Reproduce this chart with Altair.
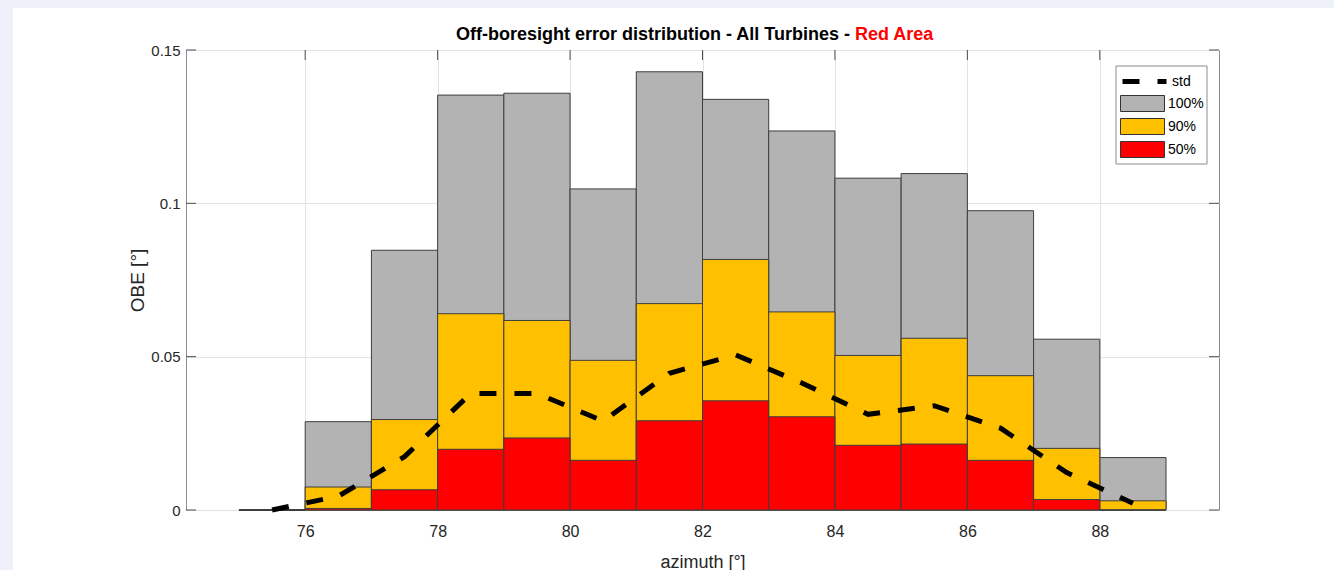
import altair as alt
import pandas as pd

# ---------------- data ----------------
bin_left = [75, 76, 77, 78, 79, 80, 81, 82, 83, 84, 85, 86, 87, 88]
bin_width = 1
obe_100 = [0.0, 0.0288, 0.0847, 0.1353, 0.1359, 0.1047, 0.1429, 0.1339, 0.1236, 0.1082, 0.1097, 0.0976, 0.0557, 0.0171]
obe_90 = [0.0, 0.0075, 0.0295, 0.0640, 0.0618, 0.0488, 0.0673, 0.0817, 0.0646, 0.0504, 0.0560, 0.0438, 0.0201, 0.0030]
obe_50 = [0.0, 0.0005, 0.0066, 0.0198, 0.0235, 0.0162, 0.0291, 0.0356, 0.0304, 0.0211, 0.0215, 0.0162, 0.0034, 0.0]
std_azimuth = [75.5, 76.5, 77.5, 78.5, 79.5, 80.5, 81.5, 82.5, 83.5, 84.5, 85.5, 86.5, 87.5, 88.5]
std_obe = [0.0, 0.0045, 0.0174, 0.0380, 0.0380, 0.0290, 0.0446, 0.0506, 0.0414, 0.0312, 0.0340, 0.0267, 0.0122, 0.0022]
x_ticks = [76, 78, 80, 82, 84, 86, 88]
y_ticks = [0, 0.05, 0.1, 0.15]
bar_levels = ["100%", "90%", "50%"]
bar_colors = ["#b3b3b3", "#ffc000", "#ff0000"]
line_levels = ["std"]
title_main = ["Off-boresight error distribution - All Turbines -"]
title_red = ["Red Area"]

# ---------------- styling ----------------
FONT = "Liberation Sans"
TXT = "#262626"
GRID = "#e3e3e3"
FRAME = "#8c8c8c"
TICK = "#4d4d4d"
PAGE_BG = "#eef1f9"
PW, PH = 1033, 460
PAD = {"left": 186, "top": 50, "right": 115, "bottom": 60}
# legend symbols: size 256 -> unit = 8 px; shapes drawn from x=0 to x=44 px, 16 px tall
RECT_PATH = "M-1,-1L4.5,-1L4.5,1L-1,1Z"
LINE_PATH = "M-1,0L4.5,0"
DASH = [17, 18]

rows = []
for lvl, vals in zip(bar_levels, (obe_100, obe_90, obe_50)):
    for b, v in zip(bin_left, vals):
        rows.append({"level": lvl, "x0": b, "x1": b + bin_width, "obe": v, "base": 0.0})
bars_df = pd.DataFrame(rows)
std_df = pd.DataFrame({"az": std_azimuth, "obe": std_obe, "series": line_levels * len(std_azimuth)})
xt_df = pd.DataFrame({"t": x_ticks})
yt_df = pd.DataFrame({"t": y_ticks})
one = pd.DataFrame({"k": [0]})

X_SCALE = alt.Scale(domain=[74.2, 89.8], nice=False, zero=False)
Y_SCALE = alt.Scale(domain=[0, 0.15], nice=False, zero=False)

X_AXIS = alt.Axis(
    title="azimuth [°]", values=x_ticks, format="d", grid=True, gridColor=GRID,
    ticks=False, tickSize=0, domain=False, labelFlush=False, labelOverlap=False,
    labelFontSize=16, labelFont=FONT, labelColor=TXT, labelPadding=13,
    titleFontSize=18, titleFont=FONT, titleColor=TXT, titleFontWeight="normal",
    titleY=57, titleBaseline="alphabetic",
)
Y_AXIS = alt.Axis(
    title="OBE [°]", values=y_ticks, format=".2~f", grid=True, gridColor=GRID,
    ticks=False, tickSize=0, domain=False, labelFlush=False, labelOverlap=False,
    labelFontSize=15, labelFont=FONT, labelColor=TXT, labelPadding=6,
    titleFontSize=19, titleFont=FONT, titleColor=TXT, titleFontWeight="normal",
    titleX=-43, titleY=PH / 2, titleBaseline="alphabetic", titleAngle=270,
)

BAR_LEGEND = alt.Legend(
    title=None, orient="none", legendX=934, legendY=45, direction="vertical",
    symbolType=RECT_PATH, symbolSize=256, symbolStrokeColor="#333333", symbolStrokeWidth=1,
    symbolOpacity=1, labelFontSize=14, labelFont=FONT, labelColor="#000000", labelOffset=31,
    padding=0, rowPadding=2,
)
STD_LEGEND = alt.Legend(
    title=None, orient="none", legendX=934, legendY=21, direction="vertical",
    symbolType=LINE_PATH, symbolSize=256, symbolStrokeColor="#000000", symbolStrokeWidth=5,
    symbolFillColor="transparent", symbolDash=DASH, symbolOpacity=1,
    labelFontSize=14, labelFont=FONT, labelColor="#000000", labelOffset=31, padding=0,
)

# page background strips (outside the plot)
strip_left = alt.Chart(one).mark_rect(color=PAGE_BG).encode(
    x=alt.value(-PAD["left"]), x2=alt.value(-PAD["left"] + 13),
    y=alt.value(-PAD["top"]), y2=alt.value(PH + PAD["bottom"]),
)
strip_top = alt.Chart(one).mark_rect(color=PAGE_BG).encode(
    x=alt.value(-PAD["left"]), x2=alt.value(PW + PAD["right"]),
    y=alt.value(-PAD["top"]), y2=alt.value(-PAD["top"] + 8),
)

# inward ticks on all four sides
tick_top = alt.Chart(xt_df).mark_rule(color=TICK, strokeWidth=1).encode(
    x=alt.X("t:Q", scale=X_SCALE, axis=X_AXIS), y=alt.value(0), y2=alt.value(10))
tick_bottom = alt.Chart(xt_df).mark_rule(color=TICK, strokeWidth=1).encode(
    x=alt.X("t:Q", scale=X_SCALE, axis=X_AXIS), y=alt.value(PH - 10), y2=alt.value(PH))
tick_left = alt.Chart(yt_df).mark_rule(color=TICK, strokeWidth=1).encode(
    y=alt.Y("t:Q", scale=Y_SCALE, axis=Y_AXIS), x=alt.value(0), x2=alt.value(10))
tick_right = alt.Chart(yt_df).mark_rule(color=TICK, strokeWidth=1).encode(
    y=alt.Y("t:Q", scale=Y_SCALE, axis=Y_AXIS), x=alt.value(PW - 10), x2=alt.value(PW))

# legend frame (decoration)
legend_box = alt.Chart(one).mark_rect(fill="white", stroke=FRAME, strokeWidth=1).encode(
    x=alt.value(930), x2=alt.value(1021), y=alt.value(16), y2=alt.value(114),
)

bars = alt.Chart(bars_df).mark_rect(stroke="#3d3d3d", strokeWidth=1).encode(
    x=alt.X("x0:Q", scale=X_SCALE, axis=X_AXIS),
    x2="x1:Q",
    y=alt.Y("obe:Q", scale=Y_SCALE, axis=Y_AXIS),
    y2="base:Q",
    fill=alt.Fill("level:N", scale=alt.Scale(domain=bar_levels, range=bar_colors), legend=BAR_LEGEND),
)

std_line = alt.Chart(std_df).mark_line(strokeWidth=5, strokeCap="butt", color="#000000").encode(
    x=alt.X("az:Q", scale=X_SCALE, axis=X_AXIS),
    y=alt.Y("obe:Q", scale=Y_SCALE, axis=Y_AXIS),
    strokeDash=alt.StrokeDash("series:N", scale=alt.Scale(domain=line_levels, range=[DASH]), legend=STD_LEGEND),
)

t_main = alt.Chart(pd.DataFrame({"t": title_main})).mark_text(
    align="right", baseline="alphabetic", font=FONT, fontSize=18, fontWeight="bold", color="#000000"
).encode(x=alt.value(664), y=alt.value(-10), text="t:N")
t_red = alt.Chart(pd.DataFrame({"t": title_red})).mark_text(
    align="left", baseline="alphabetic", font=FONT, fontSize=18, fontWeight="bold", color="#ff0000"
).encode(x=alt.value(669), y=alt.value(-10), text="t:N")

chart = alt.layer(
    strip_left, strip_top, tick_top, tick_bottom, tick_left, tick_right,
    bars, std_line, legend_box, t_main, t_red
).properties(
    width=PW, height=PH, padding=PAD,
    autosize=alt.AutoSizeParams(type="none"), background="white",
).configure_view(stroke=FRAME, strokeWidth=1, fill="white")

chart.save("out.html", embed_options={"renderer": "svg", "actions": False})
